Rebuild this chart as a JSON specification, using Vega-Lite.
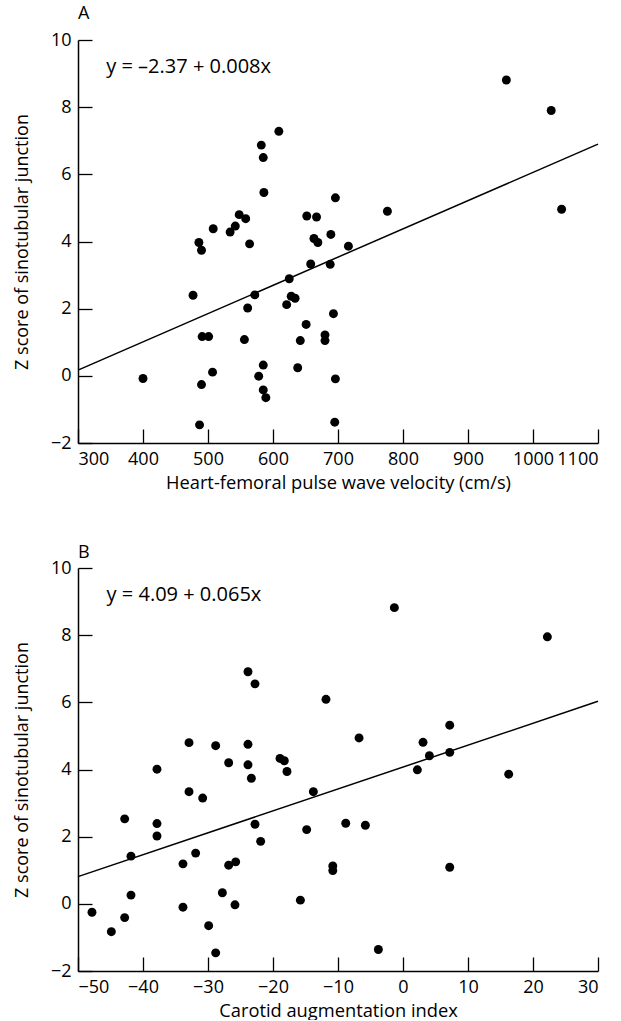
{
  "$schema": "https://vega.github.io/schema/vega-lite/v6.json",
  "background": "white",
  "padding": {"left": 13, "top": 5, "right": 5, "bottom": 0},
  "config": {
    "view": {"stroke": null},
    "font": "Open Sans",
    "axis": {
      "grid": false,
      "domainColor": "black",
      "domainWidth": 1.5,
      "tickColor": "black",
      "tickWidth": 1.3,
      "tickSize": -14,
      "labelColor": "black",
      "labelFont": "Open Sans",
      "labelFontSize": 18,
      "labelPadding": 21,
      "titleColor": "black",
      "titleFont": "Open Sans",
      "titleFontSize": 18.3,
      "titleFontWeight": "normal",
      "format": "d"
    },
    "axisX": {"titlePadding": 6},
    "axisY": {"titlePadding": 18.5, "titleFontSize": 18},
    "title": {"anchor": "start", "frame": "group", "font": "Open Sans", "fontSize": 18, "fontWeight": "normal", "color": "black", "offset": 8}
  },
  "datasets": {
    "a": [
      {"x": 609, "y": 7.28}, {"x": 582, "y": 6.87}, {"x": 585, "y": 6.5}, {"x": 586, "y": 5.46},
      {"x": 696, "y": 5.3}, {"x": 548, "y": 4.8}, {"x": 558, "y": 4.68}, {"x": 652, "y": 4.76},
      {"x": 667, "y": 4.73}, {"x": 508, "y": 4.38}, {"x": 542, "y": 4.46}, {"x": 534, "y": 4.28},
      {"x": 486, "y": 3.97}, {"x": 490, "y": 3.74}, {"x": 564, "y": 3.93}, {"x": 663, "y": 4.09},
      {"x": 669, "y": 3.97}, {"x": 689, "y": 4.21}, {"x": 716, "y": 3.86}, {"x": 658, "y": 3.33},
      {"x": 688, "y": 3.32}, {"x": 625, "y": 2.89}, {"x": 477, "y": 2.4}, {"x": 572, "y": 2.41},
      {"x": 628, "y": 2.37}, {"x": 634, "y": 2.31}, {"x": 621, "y": 2.12}, {"x": 561, "y": 2.02},
      {"x": 693, "y": 1.85}, {"x": 651, "y": 1.53}, {"x": 491, "y": 1.17}, {"x": 501, "y": 1.17},
      {"x": 556, "y": 1.08}, {"x": 642, "y": 1.05}, {"x": 680, "y": 1.22}, {"x": 680, "y": 1.05},
      {"x": 585, "y": 0.32}, {"x": 638, "y": 0.24}, {"x": 400, "y": -0.08}, {"x": 507, "y": 0.11},
      {"x": 490, "y": -0.26}, {"x": 578, "y": -0.01}, {"x": 696, "y": -0.09}, {"x": 585, "y": -0.42},
      {"x": 589, "y": -0.65}, {"x": 487, "y": -1.46}, {"x": 695, "y": -1.38}, {"x": 959, "y": 8.81},
      {"x": 1028, "y": 7.9}, {"x": 1044, "y": 4.96}, {"x": 776, "y": 4.9}
    ],
    "b": [
      {"x": -23.85, "y": 6.91}, {"x": -22.77, "y": 6.55}, {"x": -11.85, "y": 6.09}, {"x": -32.92, "y": 4.8},
      {"x": -28.82, "y": 4.71}, {"x": -23.85, "y": 4.75}, {"x": -26.82, "y": 4.2}, {"x": -23.85, "y": 4.14},
      {"x": -23.33, "y": 3.74}, {"x": -18.92, "y": 4.33}, {"x": -18.26, "y": 4.26}, {"x": -17.85, "y": 3.94},
      {"x": -37.85, "y": 4.01}, {"x": -32.92, "y": 3.34}, {"x": -30.82, "y": 3.15}, {"x": -13.79, "y": 3.34},
      {"x": -42.82, "y": 2.53}, {"x": -37.85, "y": 2.39}, {"x": -37.85, "y": 2.02}, {"x": -22.77, "y": 2.37},
      {"x": -21.9, "y": 1.86}, {"x": -14.82, "y": 2.21}, {"x": -41.85, "y": 1.42}, {"x": -31.9, "y": 1.51},
      {"x": -33.85, "y": 1.19}, {"x": -26.82, "y": 1.15}, {"x": -25.74, "y": 1.25}, {"x": -10.8, "y": 1.13},
      {"x": -10.8, "y": 0.99}, {"x": -41.85, "y": 0.26}, {"x": -47.85, "y": -0.25}, {"x": -44.87, "y": -0.83},
      {"x": -42.82, "y": -0.41}, {"x": -33.85, "y": -0.1}, {"x": -27.79, "y": 0.33}, {"x": -25.85, "y": -0.03},
      {"x": -29.9, "y": -0.65}, {"x": -28.82, "y": -1.46}, {"x": -15.79, "y": 0.11}, {"x": -1.33, "y": 8.82},
      {"x": 22.21, "y": 7.95}, {"x": 7.19, "y": 5.32}, {"x": -6.76, "y": 4.94}, {"x": 3.08, "y": 4.81},
      {"x": 4.06, "y": 4.41}, {"x": 7.19, "y": 4.51}, {"x": 2.21, "y": 3.99}, {"x": 16.26, "y": 3.86},
      {"x": -8.81, "y": 2.4}, {"x": -5.79, "y": 2.34}, {"x": 7.19, "y": 1.09}, {"x": -3.79, "y": -1.36}
    ],
    "la": [{"x": 300, "y": 0.17}, {"x": 1100, "y": 6.9}],
    "lb": [{"x": -50, "y": 0.81}, {"x": 30, "y": 6.03}],
    "ea": [{"label": "y = –2.37 + 0.008x"}],
    "eb": [{"label": "y = 4.09 + 0.065x"}]
  },
  "spacing": 52,
  "vconcat": [
    {
      "title": "A",
      "width": 520,
      "height": 403,
      "layer": [
        {
          "data": {"name": "a"},
          "mark": {"type": "circle", "size": 80, "color": "black", "opacity": 1},
          "encoding": {
            "x": {"field": "x", "type": "quantitative", "scale": {"domain": [300, 1100], "nice": false}, "axis": {"values": [300, 400, 500, 600, 700, 800, 900, 1000, 1100], "title": "Heart-femoral pulse wave velocity (cm/s)"}},
            "y": {"field": "y", "type": "quantitative", "scale": {"domain": [-2, 10], "nice": false}, "axis": {"values": [-2, 0, 2, 4, 6, 8, 10], "title": "Z score of sinotubular junction"}}
          }
        },
        {
          "data": {"name": "la"},
          "mark": {"type": "line", "color": "black", "strokeWidth": 1.5},
          "encoding": {"x": {"field": "x", "type": "quantitative"}, "y": {"field": "y", "type": "quantitative"}}
        },
        {
          "data": {"name": "ea"},
          "mark": {"type": "text", "align": "left", "baseline": "alphabetic", "font": "Open Sans", "fontSize": 20, "color": "black"},
          "encoding": {"x": {"datum": 343.5, "type": "quantitative"}, "y": {"datum": 9.03, "type": "quantitative"}, "text": {"field": "label", "type": "nominal"}}
        }
      ]
    },
    {
      "title": {"text": "B", "offset": -3},
      "width": 520,
      "height": 403,
      "layer": [
        {
          "data": {"name": "b"},
          "mark": {"type": "circle", "size": 80, "color": "black", "opacity": 1},
          "encoding": {
            "x": {"field": "x", "type": "quantitative", "scale": {"domain": [-50, 30], "nice": false}, "axis": {"values": [-50, -40, -30, -20, -10, 0, 10, 20, 30], "title": "Carotid augmentation index"}},
            "y": {"field": "y", "type": "quantitative", "scale": {"domain": [-2, 10], "nice": false}, "axis": {"values": [-2, 0, 2, 4, 6, 8, 10], "title": "Z score of sinotubular junction"}}
          }
        },
        {
          "data": {"name": "lb"},
          "mark": {"type": "line", "color": "black", "strokeWidth": 1.5},
          "encoding": {"x": {"field": "x", "type": "quantitative"}, "y": {"field": "y", "type": "quantitative"}}
        },
        {
          "data": {"name": "eb"},
          "mark": {"type": "text", "align": "left", "baseline": "alphabetic", "font": "Open Sans", "fontSize": 20, "color": "black"},
          "encoding": {"x": {"datum": -45.6, "type": "quantitative"}, "y": {"datum": 9.03, "type": "quantitative"}, "text": {"field": "label", "type": "nominal"}}
        }
      ]
    }
  ]
}
